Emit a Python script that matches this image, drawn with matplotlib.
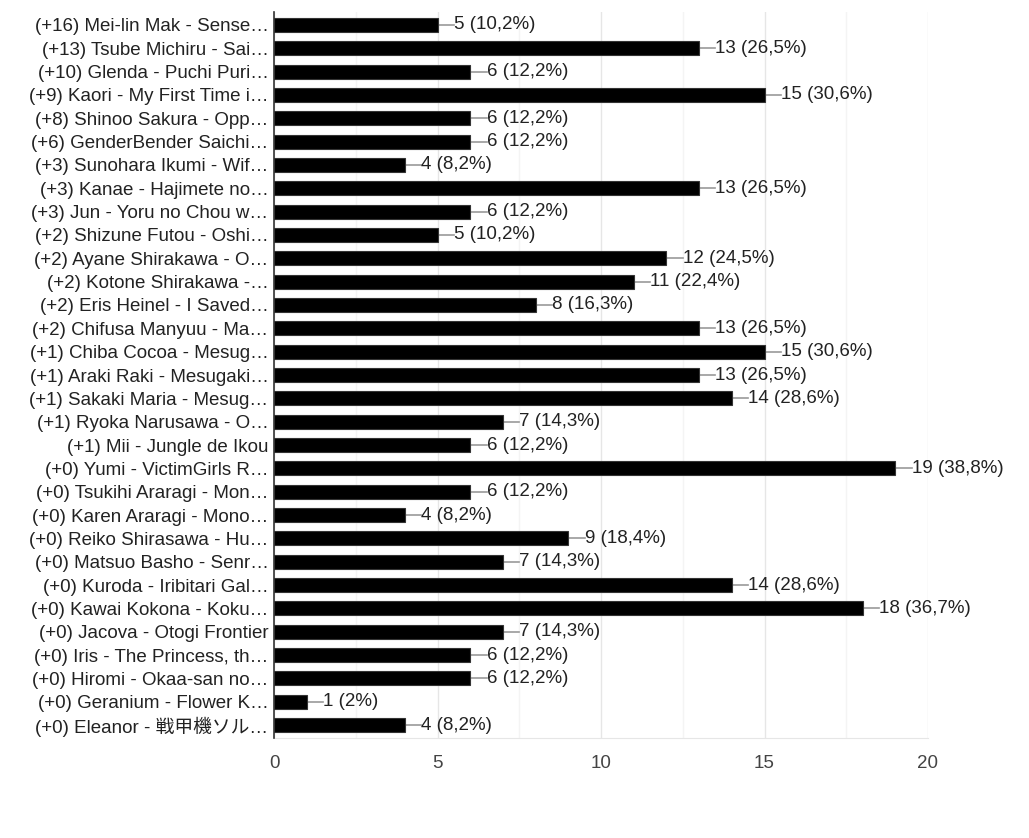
import matplotlib
matplotlib.use('Agg')
import matplotlib.pyplot as plt
from matplotlib.ticker import MultipleLocator

labels = [
    "(+16) Mei-lin Mak - Sense…",
    "(+13) Tsube Michiru - Sai…",
    "(+10) Glenda - Puchi Puri…",
    "(+9) Kaori - My First Time i…",
    "(+8) Shinoo Sakura - Opp…",
    "(+6) GenderBender Saichi…",
    "(+3) Sunohara Ikumi - Wif…",
    "(+3) Kanae - Hajimete no…",
    "(+3) Jun - Yoru no Chou w…",
    "(+2) Shizune Futou - Oshi…",
    "(+2) Ayane Shirakawa - O…",
    "(+2) Kotone Shirakawa -…",
    "(+2) Eris Heinel - I Saved…",
    "(+2) Chifusa Manyuu - Ma…",
    "(+1) Chiba Cocoa - Mesug…",
    "(+1) Araki Raki - Mesugaki…",
    "(+1) Sakaki Maria - Mesug…",
    "(+1) Ryoka Narusawa - O…",
    "(+1) Mii - Jungle de Ikou",
    "(+0) Yumi - VictimGirls R…",
    "(+0) Tsukihi Araragi - Mon…",
    "(+0) Karen Araragi - Mono…",
    "(+0) Reiko Shirasawa - Hu…",
    "(+0) Matsuo Basho - Senr…",
    "(+0) Kuroda - Iribitari Gal…",
    "(+0) Kawai Kokona - Koku…",
    "(+0) Jacova - Otogi Frontier",
    "(+0) Iris - The Princess, th…",
    "(+0) Hiromi - Okaa-san no…",
    "(+0) Geranium - Flower K…",
    "(+0) Eleanor - 戦甲機ソル…",
]
votes = [5, 13, 6, 15, 6, 6, 4, 13, 6, 5, 12, 11, 8, 13, 15, 13, 14, 7, 6,
         19, 6, 4, 9, 7, 14, 18, 7, 6, 6, 1, 4]
total = 49

plt.rcParams['font.family'] = ['Liberation Sans', 'Noto Sans CJK JP', 'DejaVu Sans']

fig = plt.figure(figsize=(10.29, 8.38), dpi=100)
ax = fig.add_axes([274 / 1029, 1 - 738 / 838, (928 - 274) / 1029, (738 - 12) / 838])

y = list(range(len(votes)))
ax.barh(y, votes, height=0.6, color='black', edgecolor='#333333', linewidth=0.8, zorder=3)

for yi, v in zip(y, votes):
    pct = f"{v / total * 100:.1f}".rstrip('0').rstrip('.').replace('.', ',')
    ax.plot([v, v + 0.5], [yi, yi], color='#999999', linewidth=1.2, zorder=2)
    ax.text(v + 0.5, yi, f"{v} ({pct}%)", va='center', ha='left',
            fontsize=13.5, color='#222222')

ax.set_xlim(0, 20)
ax.set_ylim(len(votes) - 0.45, -0.55)
ax.set_yticks(y)
ax.set_yticklabels(labels, fontsize=13.5, color='#222222')
ax.xaxis.set_major_locator(MultipleLocator(5))
ax.xaxis.set_minor_locator(MultipleLocator(2.5))
ax.tick_params(axis='x', labelsize=13.5, colors='#444444', length=0, pad=12)
ax.tick_params(axis='y', length=0, pad=4)
ax.tick_params(which='minor', length=0)
ax.grid(axis='x', which='major', color='#e6e6e6', linewidth=1, zorder=0)
ax.grid(axis='x', which='minor', color='#f4f4f4', linewidth=1, zorder=0)

for side in ['top', 'right']:
    ax.spines[side].set_visible(False)
ax.spines['bottom'].set_color('#e6e6e6')
ax.spines['left'].set_color('#333333')
ax.spines['left'].set_linewidth(1.2)
ax.spines['left'].set_zorder(4)

fig.savefig('out.png', dpi=100)
